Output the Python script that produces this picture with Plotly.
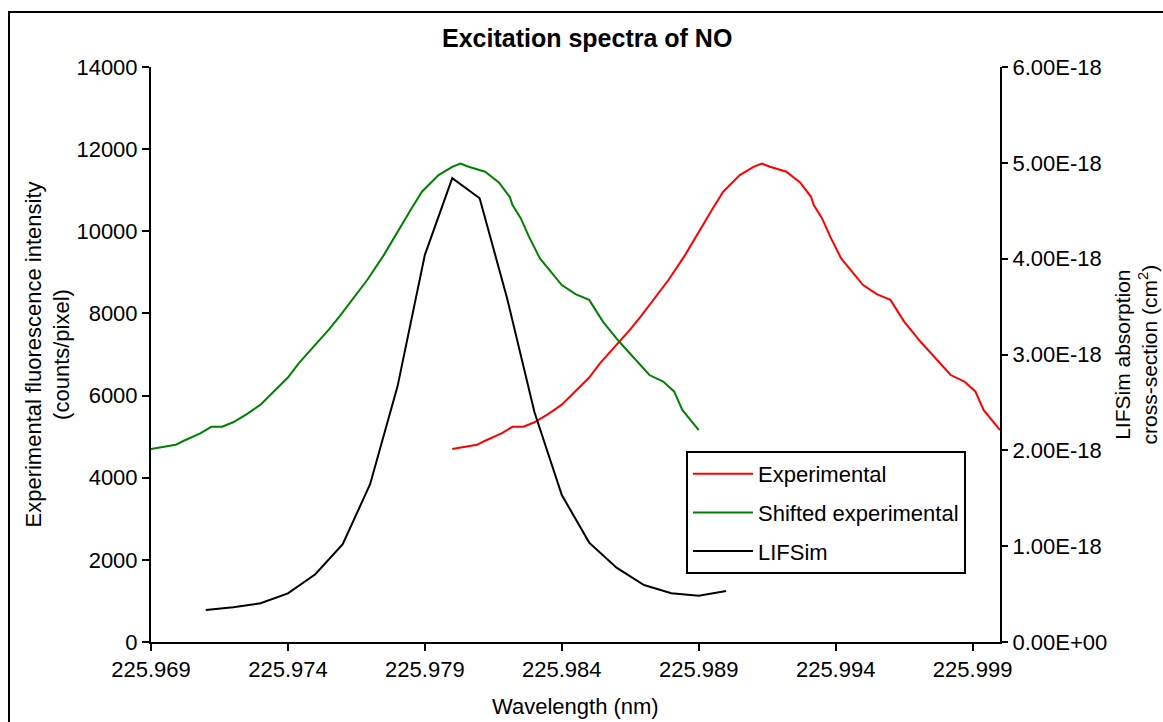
import plotly.graph_objects as go

# ---------------- data ----------------
# Experimental fluorescence intensity (counts/pixel), shared by both experimental traces
intensity = [4700, 4800, 4900, 5080, 5240, 5240, 5350, 5550, 5780, 6180, 6440,
             6790, 7230, 7610, 7940, 8290, 8820, 9420, 9990, 10540, 10970, 11370,
             11570, 11650, 11570, 11450, 11190, 10840, 10640, 10320, 9870, 9340,
             8690, 8470, 8330, 7800, 7310, 6870, 6500, 6340, 6100, 5650, 5160]

# Wavelengths of the shifted experimental spectrum (nm)
wl_shifted = [225.9690, 225.9699, 225.9702, 225.9708, 225.9712, 225.9716, 225.9720,
              225.9725, 225.9730, 225.9736, 225.9740, 225.9744, 225.9750, 225.9755,
              225.9759, 225.9763, 225.9769, 225.9775, 225.9780, 225.9785, 225.9789,
              225.9795, 225.9800, 225.9803, 225.9806, 225.9812, 225.9817, 225.9821,
              225.9822, 225.9825, 225.9828, 225.9832, 225.9840, 225.9845, 225.9850,
              225.9855, 225.9861, 225.9867, 225.9872, 225.9877, 225.9881, 225.9884,
              225.9890]

# Wavelengths of the measured (unshifted) experimental spectrum (nm)
wl_exp = [225.9800, 225.9809, 225.9812, 225.9818, 225.9822, 225.9826, 225.9830,
          225.9835, 225.9840, 225.9846, 225.9850, 225.9854, 225.9860, 225.9865,
          225.9869, 225.9873, 225.9879, 225.9885, 225.9890, 225.9895, 225.9899,
          225.9905, 225.9910, 225.9913, 225.9916, 225.9922, 225.9927, 225.9931,
          225.9932, 225.9935, 225.9938, 225.9942, 225.9950, 225.9955, 225.9960,
          225.9965, 225.9971, 225.9977, 225.9982, 225.9987, 225.9991, 225.9994,
          226.0000]

# LIFSim simulated absorption cross-section (cm^2)
wl_lifsim = [225.971, 225.972, 225.973, 225.974, 225.975, 225.976, 225.977,
             225.978, 225.979, 225.980, 225.981, 225.982, 225.983, 225.984,
             225.985, 225.986, 225.987, 225.988, 225.989, 225.990]
sigma_lifsim = [0.334e-18, 0.362e-18, 0.404e-18, 0.508e-18, 0.707e-18, 1.02e-18,
                1.646e-18, 2.665e-18, 4.04e-18, 4.84e-18, 4.63e-18, 3.59e-18,
                2.40e-18, 1.534e-18, 1.037e-18, 0.776e-18, 0.595e-18, 0.508e-18,
                0.483e-18, 0.532e-18]

x_tickvals = [225.969, 225.974, 225.979, 225.984, 225.989, 225.994, 225.999]
x_ticktext = ["225.969", "225.974", "225.979", "225.984", "225.989", "225.994", "225.999"]
y_tickvals = [0, 2000, 4000, 6000, 8000, 10000, 12000, 14000]
y_ticktext = ["0", "2000", "4000", "6000", "8000", "10000", "12000", "14000"]
y2_tickvals = [0, 1e-18, 2e-18, 3e-18, 4e-18, 5e-18, 6e-18]
y2_ticktext = ["0.00E+00", "1.00E-18", "2.00E-18", "3.00E-18", "4.00E-18", "5.00E-18", "6.00E-18"]

# ---------------- figure ----------------
FONT = "Liberation Sans, Arial, sans-serif"
W, H = 1163, 722
L, R, T, B = 151, 163, 67, 80
PW, PH = W - L - R, H - T - B


def px(xp):
    return (xp - L) / PW


def py(yp):
    return (H - B - yp) / PH


fig = go.Figure()
fig.add_trace(go.Scatter(x=wl_exp, y=intensity, mode="lines", name="Experimental",
                         line=dict(color="#ff0000", width=2), legendgroup="a"))
fig.add_trace(go.Scatter(x=wl_shifted, y=intensity, mode="lines", name="Shifted experimental",
                         line=dict(color="#008000", width=2), legendgroup="b"))
fig.add_trace(go.Scatter(x=wl_lifsim, y=sigma_lifsim, mode="lines", name="LIFSim",
                         line=dict(color="#000000", width=2), yaxis="y2", legendgroup="c"))

axis_common = dict(showgrid=False, zeroline=False, showline=True, linecolor="black",
                   linewidth=2, ticks="outside", tickcolor="black", tickwidth=2,
                   tickfont=dict(family=FONT, size=22, color="black"))

fig.update_layout(
    width=W, height=H,
    margin=dict(l=L, r=R, t=T, b=B, autoexpand=False),
    paper_bgcolor="white", plot_bgcolor="white",
    font=dict(family=FONT, size=22, color="black"),
    showlegend=True,
    legend=dict(x=px(686), y=py(451), xanchor="left", yanchor="top",
                bgcolor="white", bordercolor="black", borderwidth=2,
                font=dict(family=FONT, size=22, color="black"),
                tracegroupgap=7, itemwidth=60),
    xaxis=dict(range=[225.969, 226.000], tickvals=x_tickvals, ticktext=x_ticktext,
               ticklen=7, **axis_common),
    yaxis=dict(range=[0, 14000], tickvals=y_tickvals, ticktext=y_ticktext,
               ticklen=7, **axis_common),
    yaxis2=dict(range=[0, 6e-18], tickvals=y2_tickvals, ticktext=y2_ticktext,
                overlaying="y", side="right", ticklen=6, **axis_common),
)

annotations = [
    dict(text="<b>Excitation spectra of NO</b>", x=px(586.5), y=py(38),
         font=dict(family=FONT, size=25, color="black")),
    dict(text="Wavelength (nm)", x=0.5, y=py(706)),
    dict(text="Experimental fluorescence intensity<br>(counts/pixel)", x=px(47), y=0.5,
         textangle=-90),
    dict(text="LIFSim absorption<br>cross-section (cm<sup>2</sup>)", x=px(1135), y=0.5,
         textangle=-90, font=dict(family=FONT, size=21, color="black")),
]
for a in annotations:
    a.setdefault("font", dict(family=FONT, size=22, color="black"))
    fig.add_annotation(xref="paper", yref="paper", showarrow=False,
                       xanchor="center", yanchor="middle", **a)

# chart-area border (extends past the right and bottom page edges)
fig.add_shape(type="rect", xref="paper", yref="paper",
              x0=px(9), x1=px(1164), y0=py(740), y1=py(12),
              line=dict(color="black", width=2), layer="below")

fig.write_html("out.html")
